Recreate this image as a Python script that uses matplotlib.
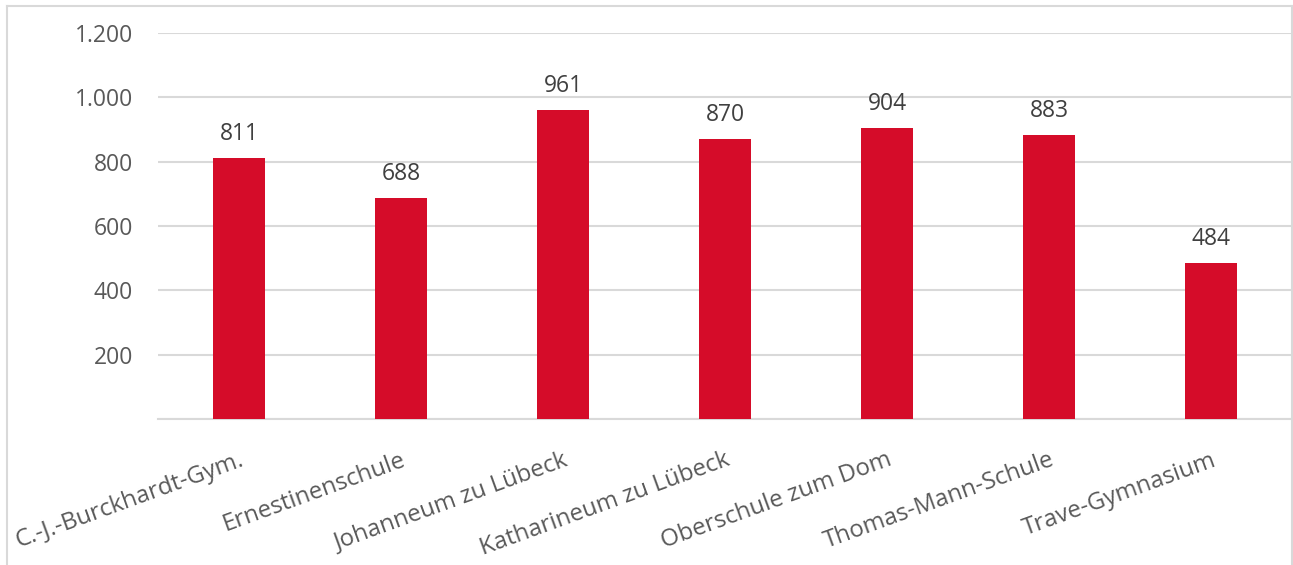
import matplotlib
matplotlib.use('Agg')
import matplotlib.pyplot as plt
from matplotlib.lines import Line2D
from matplotlib.ticker import FuncFormatter, MultipleLocator

plt.rcParams['font.family'] = ['Open Sans', 'DejaVu Sans']

schools = ['C.-J.-Burckhardt-Gym.', 'Ernestinenschule', 'Johanneum zu Lübeck',
           'Katharineum zu Lübeck', 'Oberschule zum Dom', 'Thomas-Mann-Schule',
           'Trave-Gymnasium']
values = [811, 688, 961, 870, 904, 883, 484]

red = '#D50C29'
grey_txt = '#595959'
grid_col = '#D9D9D9'
fs = 16.5

fig = plt.figure(figsize=(12.93, 5.65), dpi=100)
ax = fig.add_axes([158 / 1293, 146 / 565, 1134 / 1293, 386 / 565])

x = range(len(schools))
ax.bar(x, values, width=0.315, color=red, zorder=3)
for xi, v in zip(x, values):
    ax.annotate(str(v), (xi, v), xytext=(0, 13), textcoords='offset points',
                ha='center', va='baseline', fontsize=fs, color='#404040')

ax.set_xlim(-0.5, len(schools) - 0.5)
ax.set_ylim(0, 1200)
ax.yaxis.set_major_locator(MultipleLocator(200))

def thousands(v, pos):
    if v == 0:
        return ''
    return f'{int(v):,}'.replace(',', '.')

ax.yaxis.set_major_formatter(FuncFormatter(thousands))
ax.grid(axis='y', color=grid_col, linewidth=1.5, zorder=0)
for s in ['top', 'right', 'left']:
    ax.spines[s].set_visible(False)
ax.spines['bottom'].set_color(grid_col)
ax.spines['bottom'].set_linewidth(1.5)
ax.tick_params(axis='both', length=0, labelsize=fs, labelcolor=grey_txt)
ax.tick_params(axis='y', pad=18)

ax.set_xticks(list(x))
ax.set_xticklabels(schools, rotation=20, ha='right', rotation_mode='anchor', fontsize=17.3)
ax.tick_params(axis='x', pad=21)

# light frame around the chart
fig.add_artist(Line2D([7 / 1293, 7 / 1293], [0, 1 - 6 / 565], color=grid_col, lw=1.5))
fig.add_artist(Line2D([7 / 1293, 1292 / 1293], [1 - 6 / 565, 1 - 6 / 565], color=grid_col, lw=1.5))
fig.add_artist(Line2D([1292 / 1293, 1292 / 1293], [0, 1 - 6 / 565], color=grid_col, lw=1.5))

fig.savefig('out.png', dpi=100, facecolor='white')
